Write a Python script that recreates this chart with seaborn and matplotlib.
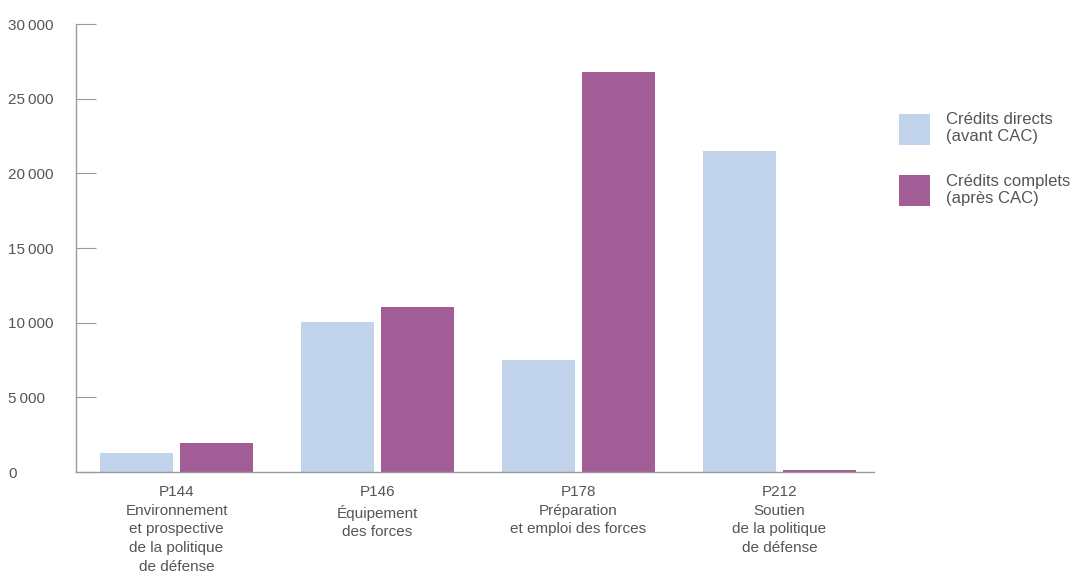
import matplotlib
matplotlib.use("Agg")
import matplotlib.pyplot as plt
import seaborn as sns
import pandas as pd
from matplotlib.patches import Patch

programmes = ["P144\nEnvironnement\net prospective\nde la politique\nde défense",
              "P146\nÉquipement\ndes forces",
              "P178\nPréparation\net emploi des forces",
              "P212\nSoutien\nde la politique\nde défense"]
series = ["Crédits directs\n(avant CAC)", "Crédits complets\n(après CAC)"]
credits_directs = [1290, 10050, 7500, 21500]
credits_complets = [1960, 11050, 26780, 160]
yticks = [0, 5000, 10000, 15000, 20000, 25000, 30000]
colors = ["#C2D3EC", "#A25C96"]

sns.set_theme(style="white")
plt.rcParams['font.family'] = ['Liberation Sans', 'DejaVu Sans']
text_color = "#555555"

df = pd.DataFrame({
    "programme": programmes * 2,
    "serie": [series[0]] * 4 + [series[1]] * 4,
    "valeur": credits_directs + credits_complets,
})

fig = plt.figure(figsize=(10.75, 5.72), dpi=100)
ax = fig.add_axes([76/1075, 1-472/572, 798/1075, 448/572])
sns.barplot(data=df, x="programme", y="valeur", hue="serie", palette=colors,
            width=0.796, gap=0.0874, saturation=1, ax=ax, legend=False,
            linewidth=0, edgecolor="none")
ax.set_xlim(-0.5, 3.47)
ax.set_ylim(0, 30000)
ax.set_xlabel("")
ax.set_ylabel("")
for s in ["top", "right"]:
    ax.spines[s].set_visible(False)
for s in ["left", "bottom"]:
    ax.spines[s].set_color("#9a9a9a")
    ax.spines[s].set_linewidth(1.0)

ax.set_yticks(yticks)
ax.set_yticklabels([f"{v:,}".replace(",", "\u2009") for v in yticks],
                   fontsize=11, color=text_color,
                   family=['Liberation Sans', 'DejaVu Sans'])
ax.tick_params(axis="y", direction="in", length=14.4, width=0.8, color="#9a9a9a",
               pad=49, left=True)
for lab in ax.get_yticklabels():
    lab.set_ha("left")
ax.tick_params(axis="x", length=0, pad=9.5)
for lab in ax.get_xticklabels():
    lab.set_fontsize(11)
    lab.set_color(text_color)
    lab.set_linespacing(1.42)

handles = [Patch(facecolor=c, edgecolor="none") for c in colors]
leg = fig.legend(handles, series, loc="upper left", bbox_to_anchor=(884/1075, 1-97/572),
                 frameon=False, handlelength=1.86, handleheight=2.48,
                 labelspacing=1.75, handletextpad=0.98, labelcolor=text_color,
                 prop={'family': ['Liberation Sans', 'DejaVu Sans'], 'size': 12})

fig.savefig("out.png", dpi=100)
